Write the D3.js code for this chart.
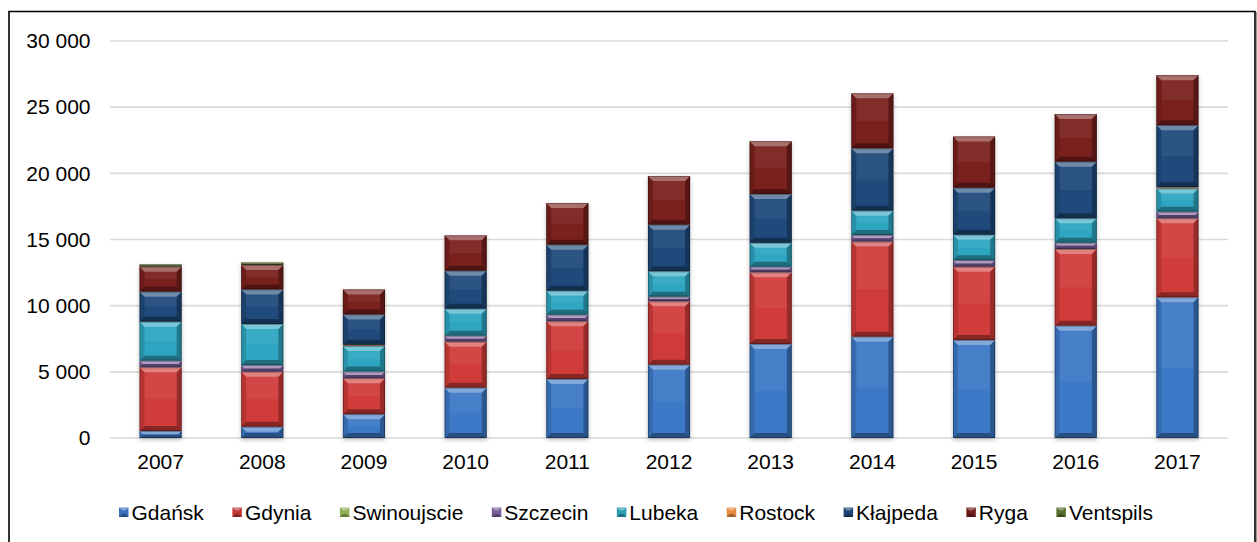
<!DOCTYPE html>
<html>
<head>
<meta charset="utf-8">
<script src="https://cdn.jsdelivr.net/npm/d3@7/dist/d3.min.js"></script>
<style>
  html, body { margin: 0; padding: 0; background: #fff; }
  svg { display: block; font-family: "Liberation Sans", Arial, sans-serif; }
</style>
</head>
<body>
<svg id="chart" width="1257" height="542"></svg>
<script>
const years = ["2007","2008","2009","2010","2011","2012","2013","2014","2015","2016","2017"];
const seriesNames = ["Gdańsk","Gdynia","Swinoujscie","Szczecin","Lubeka","Rostock","Kłajpeda","Ryga","Ventspils"];
const gdansk      = [530, 850, 1800, 3800, 4460, 5540, 7100, 7660, 7400, 8490, 10630];
const gdynia      = [4810, 4160, 2720, 3480, 4360, 4790, 5420, 7180, 5540, 5790, 5970];
const swinoujscie = [0, 0, 0, 0, 0, 0, 0, 0, 0, 0, 0];
const szczecin    = [500, 500, 500, 450, 500, 350, 420, 500, 500, 480, 500];
const lubeka      = [2950, 3100, 1940, 2040, 1810, 1920, 1810, 1840, 1920, 1840, 1760];
const rostock     = [0, 0, 80, 0, 0, 0, 0, 0, 0, 0, 80];
const klajpeda    = [2270, 2620, 2300, 2870, 3480, 3520, 3680, 4710, 3550, 4280, 4700];
const ryga        = [1890, 1840, 1890, 2675, 3150, 3680, 4000, 4160, 3880, 3600, 3780];
const ventspils   = [180, 200, 0, 0, 0, 0, 0, 0, 0, 0, 0];
const yTicks = [0, 5000, 10000, 15000, 20000, 25000, 30000];
const colors = ["#3c79c6","#d03c3a","#9bbb59","#8064a2","#2ea6c1","#f79646","#1f4a7b","#7a201d","#5f7530"];

const seriesValues = [gdansk, gdynia, swinoujscie, szczecin, lubeka, rostock, klajpeda, ryga, ventspils];
const table = years.map((yr, i) => {
  const row = { year: yr };
  seriesNames.forEach((n, k) => row[n] = seriesValues[k][i]);
  return row;
});

const FS = 21;
const svg = d3.select("#chart");
const plotL = 110, plotR = 1228, plotT = 41, plotB = 438;

const x = d3.scaleBand().domain(years).range([plotL, plotR]).paddingInner(0.585).paddingOuter(0.29);
const y = d3.scaleLinear().domain([0, 30000]).range([plotB, plotT]);

// frame
svg.append("path")
  .attr("d", `M9,545 L9,11.5 L1255,11.5 L1255,545`)
  .attr("fill", "none").attr("stroke", "#000").attr("stroke-width", 1.6);
svg.append("line").attr("x1", 1256.5).attr("x2", 1256.5).attr("y1", 12).attr("y2", 545)
  .attr("stroke", "#999").attr("stroke-width", 1);

// gridlines
svg.append("g").selectAll("line").data(yTicks).join("line")
  .attr("x1", plotL).attr("x2", plotR)
  .attr("y1", d => y(d)).attr("y2", d => y(d))
  .attr("stroke", "#d9d9d9").attr("stroke-width", 1.6);

// y axis
const yAxis = d3.axisLeft(y).tickValues(yTicks)
  .tickFormat(d => d3.format(",")(d).replace(/,/g, " ")).tickSize(0).tickPadding(0);
const yg = svg.append("g").attr("transform", `translate(90.5,0)`).call(yAxis);
yg.select(".domain").remove();
yg.selectAll("text").attr("font-size", FS).attr("fill", "#000")
  .attr("font-family", "'Liberation Sans', Arial, sans-serif");

// x axis
const xAxis = d3.axisBottom(x).tickSize(0).tickPadding(0);
const xg = svg.append("g").attr("transform", `translate(0,${plotB + 16})`).call(xAxis);
xg.select(".domain").remove();
xg.selectAll("text").attr("font-size", FS).attr("fill", "#000")
  .attr("font-family", "'Liberation Sans', Arial, sans-serif");

// shadow filter
const defs = svg.append("defs");
const flt = defs.append("filter").attr("id", "shadow").attr("x", "-20%").attr("y", "-5%").attr("width", "140%").attr("height", "115%");
flt.append("feDropShadow").attr("dx", 0).attr("dy", 2).attr("stdDeviation", 2)
  .attr("flood-color", "#000").attr("flood-opacity", 0.25);

const stack = d3.stack().keys(seriesNames)(table);

function bevel(g, x0, y0, w, h, color) {
  const b = Math.min(5, h / 2, w / 2);
  g.append("rect").attr("x", x0).attr("y", y0).attr("width", w).attr("height", h).attr("fill", color);
  if (h < 1) return;
  const x1 = x0 + w, y1 = y0 + h;
  g.append("rect").attr("x", x0 + b).attr("y", y0 + b).attr("width", Math.max(0, w - 2 * b))
    .attr("height", Math.max(0, (h - 2 * b) / 2)).attr("fill", "#fff").attr("opacity", 0.06);
  g.append("polygon").attr("points", `${x0},${y0} ${x1},${y0} ${x1 - b},${y0 + b} ${x0 + b},${y0 + b}`)
    .attr("fill", "#fff").attr("opacity", 0.36);
  g.append("polygon").attr("points", `${x0},${y1} ${x1},${y1} ${x1 - b},${y1 - b} ${x0 + b},${y1 - b}`)
    .attr("fill", "#000").attr("opacity", 0.35);
  g.append("polygon").attr("points", `${x0},${y0} ${x0 + b},${y0 + b} ${x0 + b},${y1 - b} ${x0},${y1}`)
    .attr("fill", "#000").attr("opacity", 0.12);
  g.append("polygon").attr("points", `${x1},${y0} ${x1 - b},${y0 + b} ${x1 - b},${y1 - b} ${x1},${y1}`)
    .attr("fill", "#000").attr("opacity", 0.28);
  g.append("rect").attr("x", x0 + 0.5).attr("y", y0 + 0.5).attr("width", w - 1).attr("height", Math.max(0, h - 1))
    .attr("fill", "none").attr("stroke", "#000").attr("stroke-opacity", 0.3).attr("stroke-width", 1);
}

// bar shadows
svg.append("g").attr("filter", "url(#shadow)").selectAll("rect").data(table).join("rect")
  .attr("x", d => x(d.year)).attr("width", x.bandwidth())
  .attr("y", d => y(d3.sum(seriesNames, n => d[n])))
  .attr("height", d => plotB - y(d3.sum(seriesNames, n => d[n])))
  .attr("fill", "#fff");

const barsG = svg.append("g");
stack.forEach((layer, k) => {
  layer.forEach(seg => {
    const v0 = seg[0], v1 = seg[1];
    if (v1 - v0 <= 0) return;
    const yTop = y(v1), yBot = y(v0);
    bevel(barsG, x(seg.data.year), yTop, x.bandwidth(), yBot - yTop, colors[k]);
  });
});

// legend (flowing layout using measured text widths)
const lg = svg.append("g");
let cx = 119;
const legendGap = 28.5;
seriesNames.forEach((n, k) => {
  const g = lg.append("g").attr("transform", `translate(${cx},507.5)`);
  const c = d3.color(colors[k]).darker(0.2);
  g.append("rect").attr("width", 9.5).attr("height", 9.5).attr("fill", c);
  g.append("polygon").attr("points", "0,0 9.5,0 6.5,3 3,3").attr("fill", "#fff").attr("opacity", 0.35);
  g.append("polygon").attr("points", "0,9.5 9.5,9.5 6.5,6.5 3,6.5").attr("fill", "#000").attr("opacity", 0.3);
  const t = g.append("text").attr("x", 12.5).attr("y", 4.75).attr("dy", "0.36em")
    .attr("font-size", FS).attr("fill", "#000").text(n);
  cx += 12.5 + t.node().getComputedTextLength() + legendGap;
});
</script>
</body>
</html>
